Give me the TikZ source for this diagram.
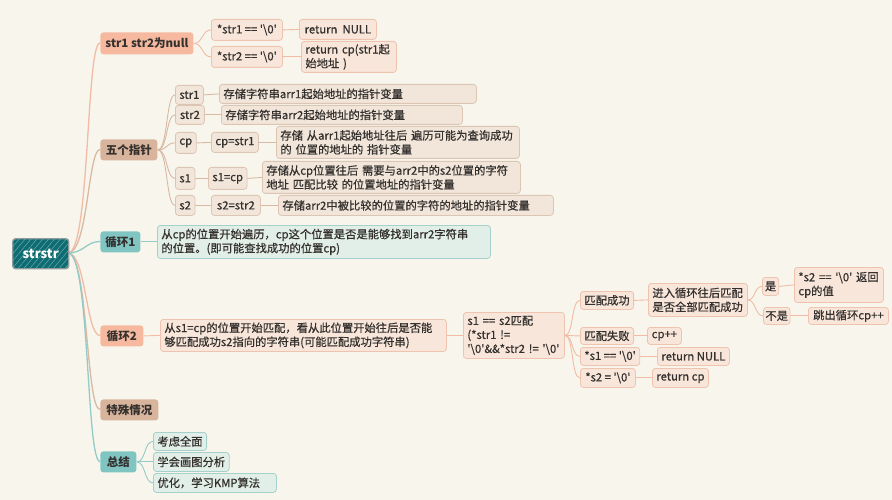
\documentclass[tikz,border=0pt]{standalone}
\usepackage{fontspec}
\newfontfamily\mainf{Noto Sans CJK SC}[FakeBold=0.6]
\newfontfamily\headf{Noto Sans CJK SC}
\usetikzlibrary{patterns.meta}
\definecolor{bg}{HTML}{F8F6EC}
\definecolor{ink}{HTML}{33302D}
\definecolor{rootc}{HTML}{0E6C73}
\definecolor{rootd}{HTML}{8F9C9B}
\definecolor{salA}{HTML}{F6B9A0}
\definecolor{tanA}{HTML}{D8B49C}
\definecolor{tealA}{HTML}{80C5C2}
\definecolor{salF}{HTML}{F9E6DB}
\definecolor{salD}{HTML}{EEC3AF}
\definecolor{tanF}{HTML}{F2E6DB}
\definecolor{tanD}{HTML}{DDC5B4}
\definecolor{tealF}{HTML}{E2EEE8}
\definecolor{tealD}{HTML}{A6D0CB}
\definecolor{salL}{HTML}{F2BBA6}
\definecolor{tanL}{HTML}{D9B8A4}
\definecolor{tealL}{HTML}{93CBC6}
\newcommand{\bs}{\textbackslash}
\begin{document}
\begin{tikzpicture}[x=1pt,y=-1pt,
  base/.style={rounded corners=3pt, line width=0.8pt, inner xsep=4pt, inner ysep=2pt,
    font=\mainf\fontsize{11.3}{14}\selectfont, text=ink, anchor=north west},
  lone/.style={base, font=\headf\fontsize{11.5}{14}\selectfont\bfseries, draw=none},
  lsal/.style={lone, fill=salA},
  ltan/.style={lone, fill=tanA},
  lteal/.style={lone, fill=tealA},
  csal/.style={base, fill=salF, draw=salD},
  ctan/.style={base, fill=tanF, draw=tanD},
  cteal/.style={base, fill=tealF, draw=tealD},
  rootbox/.style={rounded corners=3pt, line width=1.4pt, draw=rootd, fill=rootc,
    postaction={pattern={Lines[angle=50,distance=4.5pt,line width=0.5pt]}, pattern color=white!40!rootc},
    text=white, font=\headf\fontsize{13}{15}\selectfont\bfseries, anchor=north west},
  wsal/.style={salL, line width=1.3pt},
  wtan/.style={tanL, line width=1.3pt},
  wteal/.style={tealL, line width=1.3pt},
  ksal/.style={salL, line width=0.9pt},
  ktan/.style={tanL, line width=0.9pt},
  kteal/.style={tealL, line width=0.9pt}
]
\useasboundingbox (0,0) rectangle (892,500);
\fill[bg] (0,0) rectangle (892,500);

% root connectors (drawn first, under the nodes)
\coordinate (rs) at (68,253);
\draw[wsal] (rs) .. controls +(22,0) and +(-14,0) .. (100,43);
\draw[wtan] (rs) .. controls +(20,0) and +(-12,0) .. (100,149.5);
\draw[wteal] (rs) .. controls +(16,0) and +(-14,0) .. (100,241.5);
\draw[wsal] (rs) .. controls +(18,0) and +(-14,0) .. (100,335.5);
\draw[wtan] (rs) .. controls +(20,0) and +(-14,0) .. (100,409.5);
\draw[wteal] (rs) .. controls +(22,0) and +(-14,0) .. (100,461.5);

% root
\node[rootbox, minimum width=56, minimum height=30] (root) at (12,238) {strstr};

% level 1
\node[lsal, minimum width=93, minimum height=22] (n1) at (100,32) {str1 str2为null};
\node[ltan, minimum width=57, minimum height=21] (n2) at (100,139) {五个指针};
\node[lteal, minimum width=40, minimum height=21] (n3) at (100,231) {循环1};
\node[lsal, minimum width=43, minimum height=21] (n4) at (100,325) {循环2};
\node[ltan, minimum width=58, minimum height=21] (n5) at (100,399) {特殊情况};
\node[lteal, minimum width=36, minimum height=21] (n6) at (100,451) {总结};

% branch: null
\node[csal, minimum width=71, minimum height=21] (a1) at (211,19) {*str1 == '\bs 0'};
\node[csal, minimum width=71, minimum height=21] (a2) at (211,46) {*str2 == '\bs 0'};
\node[csal, minimum width=77, minimum height=20] (a3) at (299,19) {return\ \ NULL};
\node[csal, text width=87, align=left, minimum height=31] (a4) at (301,41) {return cp(str1起\\始地址 )};

% branch: five pointers
\node[ctan, minimum width=28, minimum height=19] (p1) at (175,85) {str1};
\node[ctan, minimum width=29, minimum height=19] (p2) at (175,105) {str2};
\node[ctan, minimum width=19, minimum height=21] (p3) at (175,132) {cp};
\node[ctan, minimum width=18, minimum height=22] (p4) at (175,167) {s1};
\node[ctan, minimum width=19, minimum height=20] (p5) at (175,195) {s2};
\node[ctan, minimum width=47, minimum height=20] (q3) at (211,132) {cp=str1};
\node[ctan, minimum width=37, minimum height=22] (q4) at (208,167) {s1=cp};
\node[ctan, minimum width=49, minimum height=20] (q5) at (211,195) {s2=str2};
\node[ctan, text width=249, align=left, minimum height=19] (r1) at (219,84) {存储字符串arr1起始地址的指针变量};
\node[ctan, text width=233, align=left, minimum height=19] (r2) at (221,105) {存储字符串arr2起始地址的指针变量};
\node[ctan, text width=235, align=left, minimum height=32] (r3) at (276,126) {存储 从arr1起始地址往后 遍历可能为查询成功\\的 位置的地址的 指针变量};
\node[ctan, text width=250, align=left, minimum height=32] (r4) at (262,161) {存储从cp位置往后 需要与arr2中的s2位置的字符\\地址 匹配比较 的位置地址的指针变量};
\node[ctan, text width=267, align=left, minimum height=20] (r5) at (278,195) {存储arr2中被比较的位置的字符的地址的指针变量};

% branch: loop 1
\node[cteal, text width=325, align=left, minimum height=33] (c1) at (157,225) {从cp的位置开始遍历，cp这个位置是否是能够找到arr2字符串\\的位置。(即可能查找成功的位置cp)};

% branch: loop 2
\node[csal, text width=278, align=left, minimum height=32] (d1) at (160,319) {从s1=cp的位置开始匹配，看从此位置开始往后是否能\\够匹配成功s2指向的字符串(可能匹配成功字符串)};
\node[csal, text width=93, align=left, minimum height=46] (d2) at (463,312) {s1 == s2匹配\\(*str1 !=\\'\bs 0'\&\&*str2 != '\bs 0'};
\node[csal, minimum width=52, minimum height=18] (e1) at (580,291) {匹配成功};
\node[csal, minimum width=51, minimum height=17] (e2) at (580,327) {匹配失败};
\node[csal, minimum width=59, minimum height=18] (e3) at (580,347) {*s1 == '\bs 0'};
\node[csal, minimum width=55, minimum height=19] (e4) at (580,368) {*s2 = '\bs 0'};
\node[csal, text width=91, align=left, minimum height=33] (f1) at (648,283) {进入循环往后匹配\\是否全部匹配成功};
\node[csal, minimum width=34, minimum height=17] (f2) at (647,327) {cp++};
\node[csal, minimum width=72, minimum height=18] (f3) at (657,347) {return NULL};
\node[csal, minimum width=56, minimum height=19] (f4) at (652,368) {return cp};
\node[csal, minimum width=16, minimum height=18, inner xsep=2.5pt] (g1) at (762,277) {是};
\node[csal, minimum width=26, minimum height=17, inner xsep=2pt] (g2) at (763,307) {不是};
\node[csal, text width=81, align=left, minimum height=35] (h1) at (794,267) {*s2 == '\bs 0' 返回\\cp的值};
\node[csal, minimum width=80, minimum height=17] (h2) at (808,307) {跳出循环cp++};

% branch: summary
\node[cteal, minimum width=50, minimum height=18] (s1) at (153,432) {考虑全面};
\node[cteal, minimum width=73, minimum height=19] (s2) at (153,452) {学会画图分析};
\node[cteal, text width=115, align=left, minimum height=19] (s3) at (153,473) {优化，学习KMP算法};

% null branch
\draw[ksal] (n1.east) .. controls +(9,0) and +(-9,0) .. (a1.west);
\draw[ksal] (n1.east) .. controls +(9,0) and +(-9,0) .. (a2.west);
\draw[ksal] (a1.east) -- (a3.west);
\draw[ksal] (a2.east) -- (a4.west);

% five pointers
\draw[ktan] (n2.east) .. controls +(10,0) and +(-9,0) .. (p1.west);
\draw[ktan] (n2.east) .. controls +(10,0) and +(-9,0) .. (p2.west);
\draw[ktan] (n2.east) .. controls +(10,0) and +(-9,0) .. (p3.west);
\draw[ktan] (n2.east) .. controls +(10,0) and +(-9,0) .. (p4.west);
\draw[ktan] (n2.east) .. controls +(10,0) and +(-9,0) .. (p5.west);
\draw[ktan] (p1.east) -- (r1.west);
\draw[ktan] (p2.east) -- (r2.west);
\draw[ktan] (p3.east) -- (q3.west);
\draw[ktan] (q3.east) -- (r3.west);
\draw[ktan] (p4.east) -- (q4.west);
\draw[ktan] (q4.east) -- (r4.west);
\draw[ktan] (p5.east) -- (q5.west);
\draw[ktan] (q5.east) -- (r5.west);

% loop 1
\draw[kteal] (n3.east) -- (c1.west);

% loop 2
\draw[ksal] (n4.east) -- (d1.west);
\draw[ksal] (d1.east) -- (d2.west);
\draw[ksal] (d2.east) .. controls +(9,0) and +(-9,0) .. (e1.west);
\draw[ksal] (d2.east) .. controls +(9,0) and +(-9,0) .. (e2.west);
\draw[ksal] (d2.east) .. controls +(9,0) and +(-9,0) .. (e3.west);
\draw[ksal] (d2.east) .. controls +(9,0) and +(-9,0) .. (e4.west);
\draw[ksal] (e1.east) -- (f1.west);
\draw[ksal] (e2.east) -- (f2.west);
\draw[ksal] (e3.east) -- (f3.west);
\draw[ksal] (e4.east) -- (f4.west);
\draw[ksal] (f1.east) .. controls +(8,0) and +(-8,0) .. (g1.west);
\draw[ksal] (f1.east) .. controls +(8,0) and +(-8,0) .. (g2.west);
\draw[ksal] (g1.east) -- (h1.west);
\draw[ksal] (g2.east) -- (h2.west);

% summary
\draw[kteal] (n6.east) .. controls +(9,0) and +(-9,0) .. (s1.west);
\draw[kteal] (n6.east) .. controls +(9,0) and +(-9,0) .. (s2.west);
\draw[kteal] (n6.east) .. controls +(9,0) and +(-9,0) .. (s3.west);
\end{tikzpicture}
\end{document}
